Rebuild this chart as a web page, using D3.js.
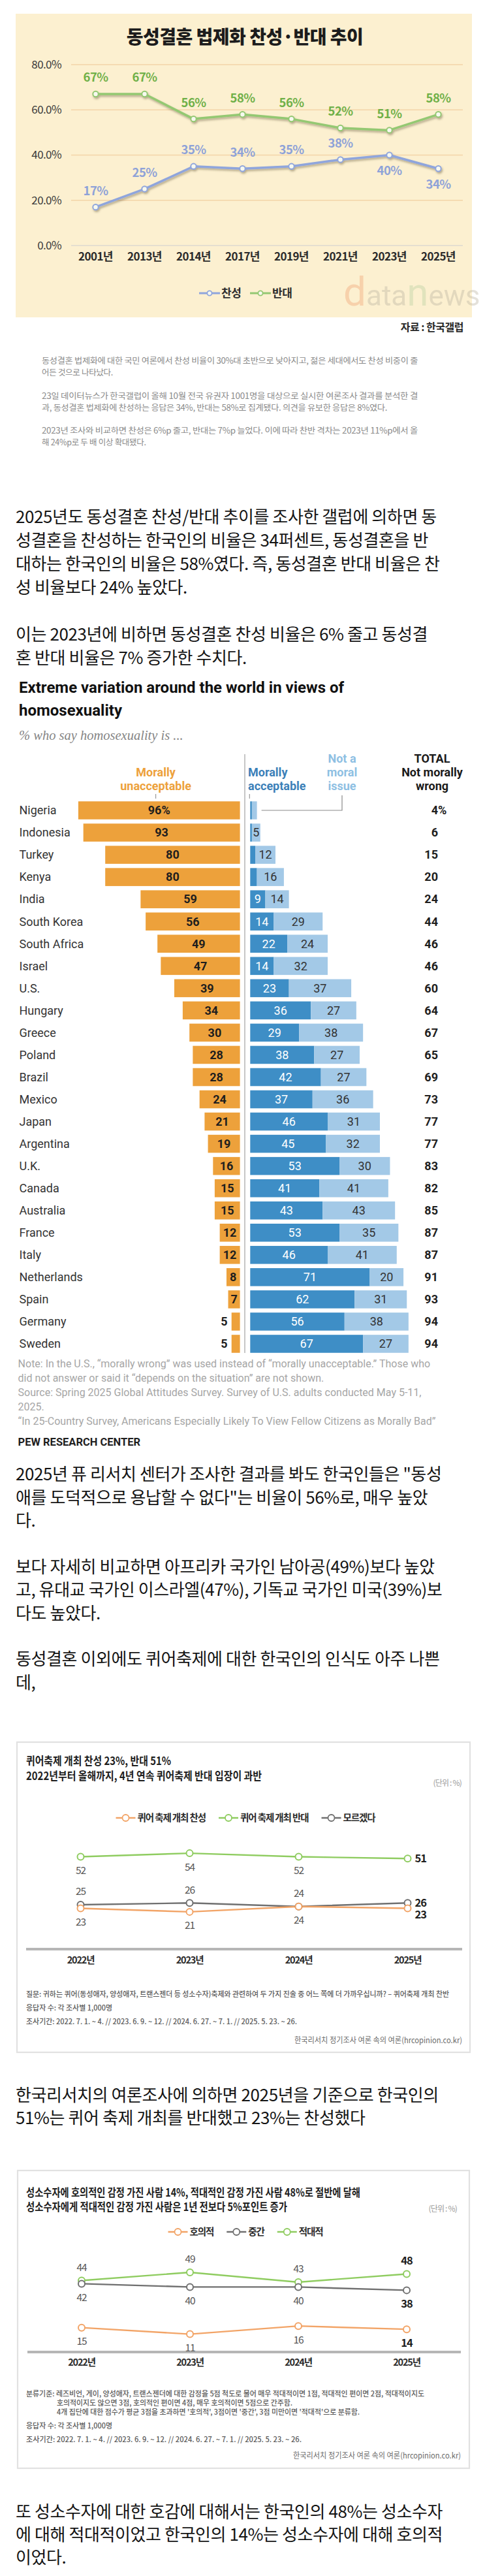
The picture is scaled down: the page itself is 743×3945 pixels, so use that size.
<!DOCTYPE html>
<html>
<head>
<meta charset="utf-8">
<script src="https://cdn.jsdelivr.net/npm/d3@7"></script>
<style>
  html, body { margin: 0; padding: 0; background: #fff; }
  svg { display: block; }
</style>
</head>
<body>
<svg id="page" width="743" height="3945"></svg>
<script>
// ---------- data ----------
// Gallup: same-sex marriage legalisation, for / against
const galYears = ["2001년", "2013년", "2014년", "2017년", "2019년", "2021년", "2023년", "2025년"];
const galFor = [17, 25, 35, 34, 35, 38, 40, 34];
const galAgainst = [67, 67, 56, 58, 56, 52, 51, 58];
const galTicks = [0, 20, 40, 60, 80];
const galForBelow = ["2023년", "2025년"];

// Pew: % who say homosexuality is ...
const pewCountries = ["Nigeria", "Indonesia", "Turkey", "Kenya", "India", "South Korea", "South Africa", "Israel", "U.S.", "Hungary", "Greece", "Poland", "Brazil", "Mexico", "Japan", "Argentina", "U.K.", "Canada", "Australia", "France", "Italy", "Netherlands", "Spain", "Germany", "Sweden"];
const pewUnacceptable = [96, 93, 80, 80, 59, 56, 49, 47, 39, 34, 30, 28, 28, 24, 21, 19, 16, 15, 15, 12, 12, 8, 7, 5, 5];
const pewAcceptable = [1, 1, 3, 4, 9, 14, 22, 14, 23, 36, 29, 38, 42, 37, 46, 45, 53, 41, 43, 53, 46, 71, 62, 56, 67];
const pewNotIssue = [3, 5, 12, 16, 14, 29, 24, 32, 37, 27, 38, 27, 27, 36, 31, 32, 30, 41, 43, 35, 41, 20, 31, 38, 27];
const pewTotal = [4, 6, 15, 20, 24, 44, 46, 46, 60, 64, 67, 65, 69, 73, 77, 77, 83, 82, 85, 87, 87, 91, 93, 94, 94];

// Hankook Research
const hrYears = ["2022년", "2023년", "2024년", "2025년"];
const festFor = [23, 21, 24, 23];
const festAgainst = [52, 54, 52, 51];
const festUnsure = [25, 26, 24, 26];
const sentFavorable = [15, 11, 16, 14];
const sentNeutral = [42, 40, 40, 38];
const sentHostile = [44, 49, 43, 48];

// ---------- helpers ----------
const KR = "'Noto Sans CJK KR', 'Noto Sans', sans-serif";
const EN = "Roboto, 'Liberation Sans', sans-serif";
const svg = d3.select("#page");
svg.append("rect").attr("width", 743).attr("height", 3945).attr("fill", "#fff");

function addText(g, txt, x, y, o = {}) {
  const t = g.append("text")
    .attr("x", x).attr("y", y).attr("dy", "0.35em")
    .attr("font-family", o.font || KR)
    .attr("font-size", o.size || 14)
    .attr("font-weight", o.weight || 400)
    .attr("fill", o.color || "#222")
    .attr("text-anchor", o.anchor || "start")
    .text(txt);
  if (o.ls) t.attr("letter-spacing", o.ls);
  if (o.italic) t.attr("font-style", "italic");
  if (o.width) t.attr("textLength", o.width).attr("lengthAdjust", "spacingAndGlyphs");
  return t;
}
function addLines(g, arr, x, y0, lh, o) {
  arr.forEach((s, i) => { if (s) addText(g, s, x, y0 + i * lh, o); });
}

const defs = svg.append("defs");
const shadow = defs.append("filter").attr("id", "shadow")
  .attr("x", "-10%").attr("y", "-40%").attr("width", "130%").attr("height", "200%");
shadow.append("feDropShadow").attr("dx", 1.5).attr("dy", 2.5).attr("stdDeviation", 1.6)
  .attr("flood-color", "#5e5430").attr("flood-opacity", 0.45);

// ---------- chart 1 : Gallup ----------
const c1 = svg.append("g");
c1.append("rect").attr("x", 24).attr("y", 21).attr("width", 699).attr("height", 465).attr("fill", "#fcf0d0");
addText(c1, "동성결혼 법제화 찬성·반대 추이", 375, 57, { size: 28, weight: 900, anchor: "middle", color: "#1c1c1c", ls: -0.5 });

const y1 = d3.scaleLinear().domain([0, 80]).range([376, 99]);
const x1 = d3.scalePoint().domain(galYears).range([109, 709]).padding(0.5);

c1.selectAll(".grid").data(galTicks).join("line").attr("class", "grid")
  .attr("x1", 109).attr("x2", 709)
  .attr("y1", d => y1(d)).attr("y2", d => y1(d))
  .attr("stroke", d => d === 0 ? "#dedad0" : "#f3d4a8").attr("stroke-width", 1.5);
c1.selectAll(".ytick").data(galTicks).join("text").attr("class", "ytick")
  .attr("x", 94).attr("y", d => y1(d)).attr("dy", "0.35em")
  .attr("text-anchor", "end").attr("font-family", KR).attr("font-size", 17)
  .attr("fill", "#3a3a3a").attr("letter-spacing", -0.6)
  .text(d => d3.format(".1f")(d) + "%");
c1.selectAll(".xtick").data(galYears).join("text").attr("class", "xtick")
  .attr("x", d => x1(d)).attr("y", 393).attr("dy", "0.35em")
  .attr("text-anchor", "middle").attr("font-family", KR).attr("font-size", 17)
  .attr("font-weight", 700).attr("fill", "#2a2a2a").attr("letter-spacing", -0.6)
  .text(d => d);

const galSeries = [
  { name: "반대", vals: galAgainst, color: "#94c872", label: "#70b048", below: [] },
  { name: "찬성", vals: galFor, color: "#8fa5dc", label: "#8ea2d8", below: galForBelow }
];
const line1 = d3.line().x((d, i) => x1(galYears[i])).y(d => y1(d));
galSeries.forEach(s => {
  const g = c1.append("g").attr("filter", "url(#shadow)");
  g.append("path").attr("d", line1(s.vals)).attr("fill", "none")
    .attr("stroke", s.color).attr("stroke-width", 3.5).attr("stroke-linejoin", "round");
  g.selectAll("circle").data(s.vals).join("circle")
    .attr("cx", (d, i) => x1(galYears[i])).attr("cy", d => y1(d)).attr("r", 4.2)
    .attr("fill", "#f7f9f0").attr("stroke", s.color).attr("stroke-width", 2);
  c1.append("g").selectAll("text").data(s.vals).join("text")
    .attr("x", (d, i) => x1(galYears[i]))
    .attr("y", (d, i) => s.below.includes(galYears[i]) ? y1(d) + 24 : y1(d) - 25)
    .attr("dy", "0.35em").attr("text-anchor", "middle")
    .attr("font-family", KR).attr("font-size", 18.5).attr("font-weight", 700)
    .attr("letter-spacing", -0.6).attr("fill", s.label)
    .text(d => d + "%");
});

// legend
[{ s: galSeries[1], x: 305 }, { s: galSeries[0], x: 383 }].forEach(({ s, x }) => {
  c1.append("line").attr("x1", x).attr("x2", x + 32).attr("y1", 449).attr("y2", 449)
    .attr("stroke", s.color).attr("stroke-width", 3);
  c1.append("circle").attr("cx", x + 16).attr("cy", 449).attr("r", 3.6)
    .attr("fill", "#f7f9f0").attr("stroke", s.color).attr("stroke-width", 1.8);
  addText(c1, s.name, x + 34, 449, { size: 17, weight: 700, color: "#2e2e2e", ls: -0.5 });
});

// watermark
const wm = c1.append("text").attr("x", 526).attr("y", 468)
  .attr("font-family", EN).attr("opacity", 0.38);
wm.append("tspan").attr("font-size", 62).attr("fill", "#f0a070").text("d");
wm.append("tspan").attr("font-size", 44).attr("fill", "#b9b2a0").text("ata");
wm.append("tspan").attr("font-size", 60).attr("fill", "#b8cfa0").text("n");
wm.append("tspan").attr("font-size", 44).attr("fill", "#b9b2a0").text("ews");

addText(c1, "자료 : 한국갤럽", 710, 501, { size: 16, weight: 700, anchor: "end", color: "#2a2a2a", ls: -0.5 });

const artLines = [
  ["동성결혼 법제화에 대한 국민 여론에서 찬성 비율이 30%대 초반으로 낮아지고, 젊은 세대에서도 찬성 비중이 줄", 553, 576],
  ["어든 것으로 나타났다.", 571, 0],
  ["23일 데이터뉴스가 한국갤럽이 올해 10월 전국 유권자 1001명을 대상으로 실시한 여론조사 결과를 분석한 결", 607, 576],
  ["과, 동성결혼 법제화에 찬성하는 응답은 34%, 반대는 58%로 집계됐다. 의견을 유보한 응답은 8%였다.", 625, 529],
  ["2023년 조사와 비교하면 찬성은 6%p 줄고, 반대는 7%p 늘었다. 이에 따라 찬반 격차는 2023년 11%p에서 올", 660, 576],
  ["해 24%p로 두 배 이상 확대됐다.", 678, 0]
];
artLines.forEach(([t, y, w]) => addText(c1, t, 64, y, { size: 12.5, color: "#8a8a8a", width: w || null, ls: -0.3 }));

// ---------- body text ----------
const BODY = { size: 26, color: "#141414", ls: -0.4 };
const bodyA = [
  "2025년도 동성결혼 찬성/반대 추이를 조사한 갤럽에 의하면 동",
  "성결혼을 찬성하는 한국인의 비율은 34퍼센트, 동성결혼을 반",
  "대하는 한국인의 비율은 58%였다. 즉, 동성결혼 반대 비율은 찬",
  "성 비율보다 24% 높았다.",
  "",
  "이는 2023년에 비하면 동성결혼 찬성 비율은 6% 줄고 동성결",
  "혼 반대 비율은 7% 증가한 수치다."
];
addLines(svg, bodyA, 24, 792, 36, BODY);

// ---------- chart 2 : Pew ----------
const pew = svg.append("g");
const ORANGE = "#eda13b", DARK = "#3e8ec6", LIGHT = "#a3c9e7";
addText(pew, "Extreme variation around the world in views of", 29, 1053, { font: EN, size: 24, weight: 700, color: "#111" });
addText(pew, "homosexuality", 29, 1088, { font: EN, size: 24, weight: 700, color: "#111" });
addText(pew, "% who say homosexuality is ...", 29, 1126, { font: "'Liberation Serif', serif", size: 20.5, italic: true, color: "#858585" });

const yP = d3.scaleBand().domain(pewCountries).range([1224, 2075]).paddingInner(0.19).paddingOuter(0.095);
const xL = d3.scaleLinear().domain([0, 100]).range([367.6, 109.6]);
const xR = d3.scaleLinear().domain([0, 100]).range([383.3, 641.3]);
const bw = yP.bandwidth();
const rows = pewCountries.map((c, i) => ({ c, i, un: pewUnacceptable[i], ac: pewAcceptable[i], ni: pewNotIssue[i], tot: pewTotal[i] }));
const cy = d => yP(d.c) + bw / 2;

// column headers
const hdr = { font: EN, size: 18, weight: 700 };
addText(pew, "Morally", xL(50), 1183, { ...hdr, anchor: "middle", color: ORANGE });
addText(pew, "unacceptable", xL(50), 1204, { ...hdr, anchor: "middle", color: ORANGE });
addText(pew, "Morally", 380, 1183, { ...hdr, color: "#3b80b8" });
addText(pew, "acceptable", 380, 1204, { ...hdr, color: "#3b80b8" });
addText(pew, "Not a", 524, 1162, { ...hdr, anchor: "middle", color: "#8ec0e3" });
addText(pew, "moral", 524, 1183, { ...hdr, anchor: "middle", color: "#8ec0e3" });
addText(pew, "issue", 524, 1204, { ...hdr, anchor: "middle", color: "#8ec0e3" });
addText(pew, "TOTAL", 662, 1162, { ...hdr, anchor: "middle", color: "#1a1a1a" });
addText(pew, "Not morally", 662, 1183, { ...hdr, anchor: "middle", color: "#1a1a1a" });
addText(pew, "wrong", 662, 1204, { ...hdr, anchor: "middle", color: "#1a1a1a" });
pew.append("line").attr("x1", xL(50)).attr("x2", xL(50)).attr("y1", 1216).attr("y2", 1223).attr("stroke", "#999").attr("stroke-width", 1.2);
pew.append("line").attr("x1", xR(0) - 1).attr("x2", xR(0) - 1).attr("y1", 1216).attr("y2", 1223).attr("stroke", "#999").attr("stroke-width", 1.2);
pew.append("path").attr("d", `M524,1218V${cy(rows[0])}H${xR(rows[0].ac + rows[0].ni) + 7}`)
  .attr("fill", "none").attr("stroke", "#8a8a8a").attr("stroke-width", 1.2);

pew.append("line").attr("x1", 375).attr("x2", 375).attr("y1", 1155).attr("y2", 2072)
  .attr("stroke", "#b4b4b4").attr("stroke-width", 1.5);

pew.selectAll(".un").data(rows).join("rect").attr("class", "un")
  .attr("x", d => xL(d.un)).attr("y", d => yP(d.c))
  .attr("width", d => xL(0) - xL(d.un)).attr("height", bw).attr("fill", ORANGE);
pew.selectAll(".ac").data(rows).join("rect").attr("class", "ac")
  .attr("x", xR(0)).attr("y", d => yP(d.c))
  .attr("width", d => xR(d.ac) - xR(0)).attr("height", bw).attr("fill", DARK);
pew.selectAll(".ni").data(rows).join("rect").attr("class", "ni")
  .attr("x", d => xR(d.ac)).attr("y", d => yP(d.c))
  .attr("width", d => xR(d.ac + d.ni) - xR(d.ac)).attr("height", bw).attr("fill", LIGHT);

const cell = sel => sel.attr("dy", "0.35em").attr("font-family", EN).attr("font-size", 18);
pew.selectAll(".cn").data(rows).join("text").attr("class", "cn").call(cell)
  .attr("x", 29.5).attr("y", cy).attr("fill", "#333").text(d => d.c);
pew.selectAll(".unl").data(rows).join("text").attr("class", "unl").call(cell)
  .attr("x", d => d.un < 6 ? xL(d.un) - 6 : (xL(d.un) + xL(0)) / 2)
  .attr("text-anchor", d => d.un < 6 ? "end" : "middle")
  .attr("y", cy).attr("font-weight", 700).attr("fill", "#1e1e1e")
  .text(d => d.i === 0 ? d.un + "%" : d.un);
pew.selectAll(".acl").data(rows.filter(d => d.ac >= 5)).join("text").attr("class", "acl").call(cell)
  .attr("x", d => (xR(0) + xR(d.ac)) / 2).attr("text-anchor", "middle")
  .attr("y", cy).attr("fill", "#fff").text(d => d.ac);
pew.selectAll(".nil").data(rows.filter(d => d.ni >= 5)).join("text").attr("class", "nil").call(cell)
  .attr("x", d => (xR(d.ac) + xR(d.ac + d.ni)) / 2).attr("text-anchor", "middle")
  .attr("y", cy).attr("fill", "#333").text(d => d.ni);
pew.selectAll(".tot").data(rows).join("text").attr("class", "tot").call(cell)
  .attr("x", 671).attr("text-anchor", "end").attr("y", cy)
  .attr("font-weight", 700).attr("fill", "#1e1e1e").text(d => d.tot);
addText(pew, "%", 671, cy(rows[0]), { font: EN, size: 18, weight: 700, color: "#1e1e1e" });

const pewNotes = [
  "Note: In the U.S., “morally wrong” was used instead of “morally unacceptable.” Those who",
  "did not answer or said it “depends on the situation” are not shown.",
  "Source: Spring 2025 Global Attitudes Survey. Survey of U.S. adults conducted May 5-11,",
  "2025.",
  "“In 25-Country Survey, Americans Especially Likely To View Fellow Citizens as Morally Bad”"
];
addLines(pew, pewNotes, 27.6, 2088, 22, { font: EN, size: 16, color: "#a6a6a6" });
addText(pew, "PEW RESEARCH CENTER", 27.6, 2208, { font: EN, size: 16.5, weight: 700, color: "#1e1e1e" });

// ---------- body text ----------
const bodyB = [
  "2025년 퓨 리서치 센터가 조사한 결과를 봐도 한국인들은 \"동성",
  "애를 도덕적으로 용납할 수 없다\"는 비율이 56%로, 매우 높았",
  "다.",
  "",
  "보다 자세히 비교하면 아프리카 국가인 남아공(49%)보다 높았",
  "고, 유대교 국가인 이스라엘(47%), 기독교 국가인 미국(39%)보",
  "다도 높았다.",
  "",
  "동성결혼 이외에도 퀴어축제에 대한 한국인의 인식도 아주 나쁜",
  "데,"
];
addLines(svg, bodyB, 24, 2258, 35.4, BODY);

// ---------- Hankook Research line charts ----------
function hrChart(cfg) {
  const g = svg.append("g");
  g.append("rect").attr("x", cfg.box[0]).attr("y", cfg.box[1])
    .attr("width", cfg.box[2] - cfg.box[0]).attr("height", cfg.box[3] - cfg.box[1])
    .attr("fill", "#fff").attr("stroke", "#e1e1e1").attr("stroke-width", 2.2);
  cfg.titles.forEach(([t, y, w]) => addText(g, t, 40, y, { size: 17.5, weight: 700, color: "#1e1e1e", width: w }));
  addText(g, "(단위 : %)", cfg.unit[0], cfg.unit[1], { size: 12, color: "#9a9a9a", anchor: "end", ls: -0.8 });

  // legend, centred
  const lg = g.append("g");
  let lx = 0;
  cfg.legend.forEach(s => {
    lg.append("line").attr("x1", lx).attr("x2", lx + 30).attr("y1", 0).attr("y2", 0)
      .attr("stroke", s.color).attr("stroke-width", 2.5);
    lg.append("circle").attr("cx", lx + 15).attr("cy", 0).attr("r", 5)
      .attr("fill", "#fff").attr("stroke", s.color).attr("stroke-width", 1.8);
    const t = addText(lg, s.name, lx + 33, 0, { size: 14.5, weight: 700, color: "#2b2b2b", ls: -1.1 });
    lx += 33 + t.node().getComputedTextLength() + 20;
  });
  lg.attr("transform", `translate(${376 - (lx - 20) / 2},${cfg.legendY})`);

  const x = d3.scalePoint().domain(hrYears).range(cfg.axisX).padding(0.5);
  const y = d3.scaleLinear().domain([0, 100]).range([cfg.zeroY, cfg.zeroY - 100 * cfg.k]);
  g.append("line").attr("x1", cfg.axisX[0]).attr("x2", cfg.axisX[1])
    .attr("y1", y(0)).attr("y2", y(0)).attr("stroke", "#b6b6b6").attr("stroke-width", 4);
  g.selectAll(".xl").data(hrYears).join("text").attr("class", "xl")
    .attr("x", d => x(d)).attr("y", cfg.xLabelY).attr("dy", "0.35em").attr("text-anchor", "middle")
    .attr("font-family", KR).attr("font-size", 14.5).attr("font-weight", 700)
    .attr("letter-spacing", -1.2).attr("fill", "#2b2b2b").text(d => d);

  const ln = d3.line().x((d, i) => x(hrYears[i])).y(d => y(d));
  cfg.series.forEach(s => {
    g.append("path").attr("d", ln(s.vals)).attr("fill", "none")
      .attr("stroke", s.color).attr("stroke-width", 2.4);
  });
  cfg.series.forEach(s => {
    g.selectAll(null).data(s.vals).join("circle")
      .attr("cx", (d, i) => x(hrYears[i])).attr("cy", d => y(d)).attr("r", 5)
      .attr("fill", "#fff").attr("stroke", s.color).attr("stroke-width", 2);
    g.selectAll(null).data(s.vals).join("text")
      .attr("x", (d, i) => (i === 3 && s.last === "right") ? x(hrYears[i]) + 11 : x(hrYears[i]))
      .attr("y", (d, i) => {
        if (i === 3 && s.last === "right") return y(d) + (s.lastDy || 0);
        return s.pos === "above" ? y(d) - 20 : y(d) + 21;
      })
      .attr("dy", "0.35em")
      .attr("text-anchor", (d, i) => (i === 3 && s.last === "right") ? "start" : "middle")
      .attr("font-family", KR).attr("letter-spacing", -1)
      .attr("font-size", (d, i) => i === 3 ? 16.5 : 15.5)
      .attr("font-weight", (d, i) => i === 3 ? 700 : 400)
      .attr("fill", (d, i) => i === 3 ? "#1e1e1e" : "#575757")
      .text(d => d);
  });

  cfg.notes.forEach(([t, nx, ny, w]) => addText(g, t, nx, ny, { size: 11.5, weight: 500, color: "#5a5a5a", width: w }));
  addText(g, "한국리서치 정기조사 여론 속의 여론(hrcopinion.co.kr)", cfg.src[0], cfg.src[1],
    { size: 12, color: "#6a6a6a", anchor: "end", width: 257 });
}

const OR = "#f2a467", GR = "#8fcc60", GY = "#707070";
hrChart({
  box: [26, 2668, 720, 3143],
  titles: [["퀴어축제 개최 찬성 23%, 반대 51%", 2697, 222], ["2022년부터 올해까지, 4년 연속 퀴어축제 반대 입장이 과반", 2720, 361]],
  unit: [707, 2731],
  legendY: 2784,
  legend: [{ name: "퀴어 축제 개최 찬성", color: OR }, { name: "퀴어 축제 개최 반대", color: GR }, { name: "모르겠다", color: GY }],
  axisX: [40, 708], zeroY: 2985, k: 2.72, xLabelY: 3002,
  series: [
    { vals: festAgainst, color: GR, pos: "below", last: "right" },
    { vals: festUnsure, color: GY, pos: "above", last: "right" },
    { vals: festFor, color: OR, pos: "below", last: "right", lastDy: 10 }
  ],
  notes: [
    ["질문: 귀하는 퀴어(동성애자, 양성애자, 트랜스젠더 등 성소수자)축제와 관련하여 두 가지 진술 중 어느 쪽에 더 가까우십니까? – 퀴어축제 개최 찬반", 40, 3054, 648],
    ["응답자 수: 각 조사별 1,000명", 40, 3075, 132],
    ["조사기간: 2022. 7. 1. ~ 4. // 2023. 6. 9. ~ 12. // 2024. 6. 27. ~ 7. 1. // 2025. 5. 23. ~ 26.", 40, 3096, 415]
  ],
  src: [708, 3125]
});

const bodyC = [
  "한국리서치의 여론조사에 의하면 2025년을 기준으로 한국인의",
  "51%는 퀴어 축제 개최를 반대했고 23%는 찬성했다"
];
addLines(svg, bodyC, 24, 3209, 34.5, BODY);

hrChart({
  box: [27, 3324, 719, 3780],
  titles: [["성소수자에 호의적인 감정 가진 사람 14%, 적대적인 감정 가진 사람 48%로 절반에 달해", 3358, 512], ["성소수자에게 적대적인 감정 가진 사람은 1년 전보다 5%포인트 증가", 3380, 400]],
  unit: [700, 3383],
  legendY: 3418,
  legend: [{ name: "호의적", color: OR }, { name: "중간", color: GY }, { name: "적대적", color: GR }],
  axisX: [42, 706], zeroY: 3602, k: 2.49, xLabelY: 3618,
  series: [
    { vals: sentHostile, color: GR, pos: "above" },
    { vals: sentNeutral, color: GY, pos: "below" },
    { vals: sentFavorable, color: OR, pos: "below" }
  ],
  notes: [
    ["분류기준: 레즈비언, 게이, 양성애자, 트랜스젠더에 대한  감정을 5점 척도로 물어 매우 적대적이면 1점, 적대적인 편이면 2점, 적대적이지도", 40, 3666, 610],
    ["호의적이지도 않으면 3점, 호의적인 편이면 4점, 매우 호의적이면 5점으로 간주함.", 87, 3680, 361],
    ["4개 집단에 대한 점수가 평균 3점을 초과하면 '호의적', 3점이면 '중간', 3점 미만이면 '적대적'으로 분류함.", 87, 3694, 464],
    ["응답자 수: 각 조사별 1,000명", 40, 3715, 132],
    ["조사기간: 2022. 7. 1. ~ 4.  // 2023. 6. 9. ~ 12. // 2024. 6. 27. ~ 7. 1. // 2025. 5. 23. ~ 26.", 40, 3736, 422]
  ],
  src: [706, 3761]
});

const bodyD = [
  "또 성소수자에 대한 호감에 대해서는 한국인의 48%는 성소수자",
  "에 대해 적대적이었고 한국인의 14%는 성소수자에 대해 호의적",
  "이었다."
];
addLines(svg, bodyD, 24, 3847, 35, BODY);
</script>
</body>
</html>
